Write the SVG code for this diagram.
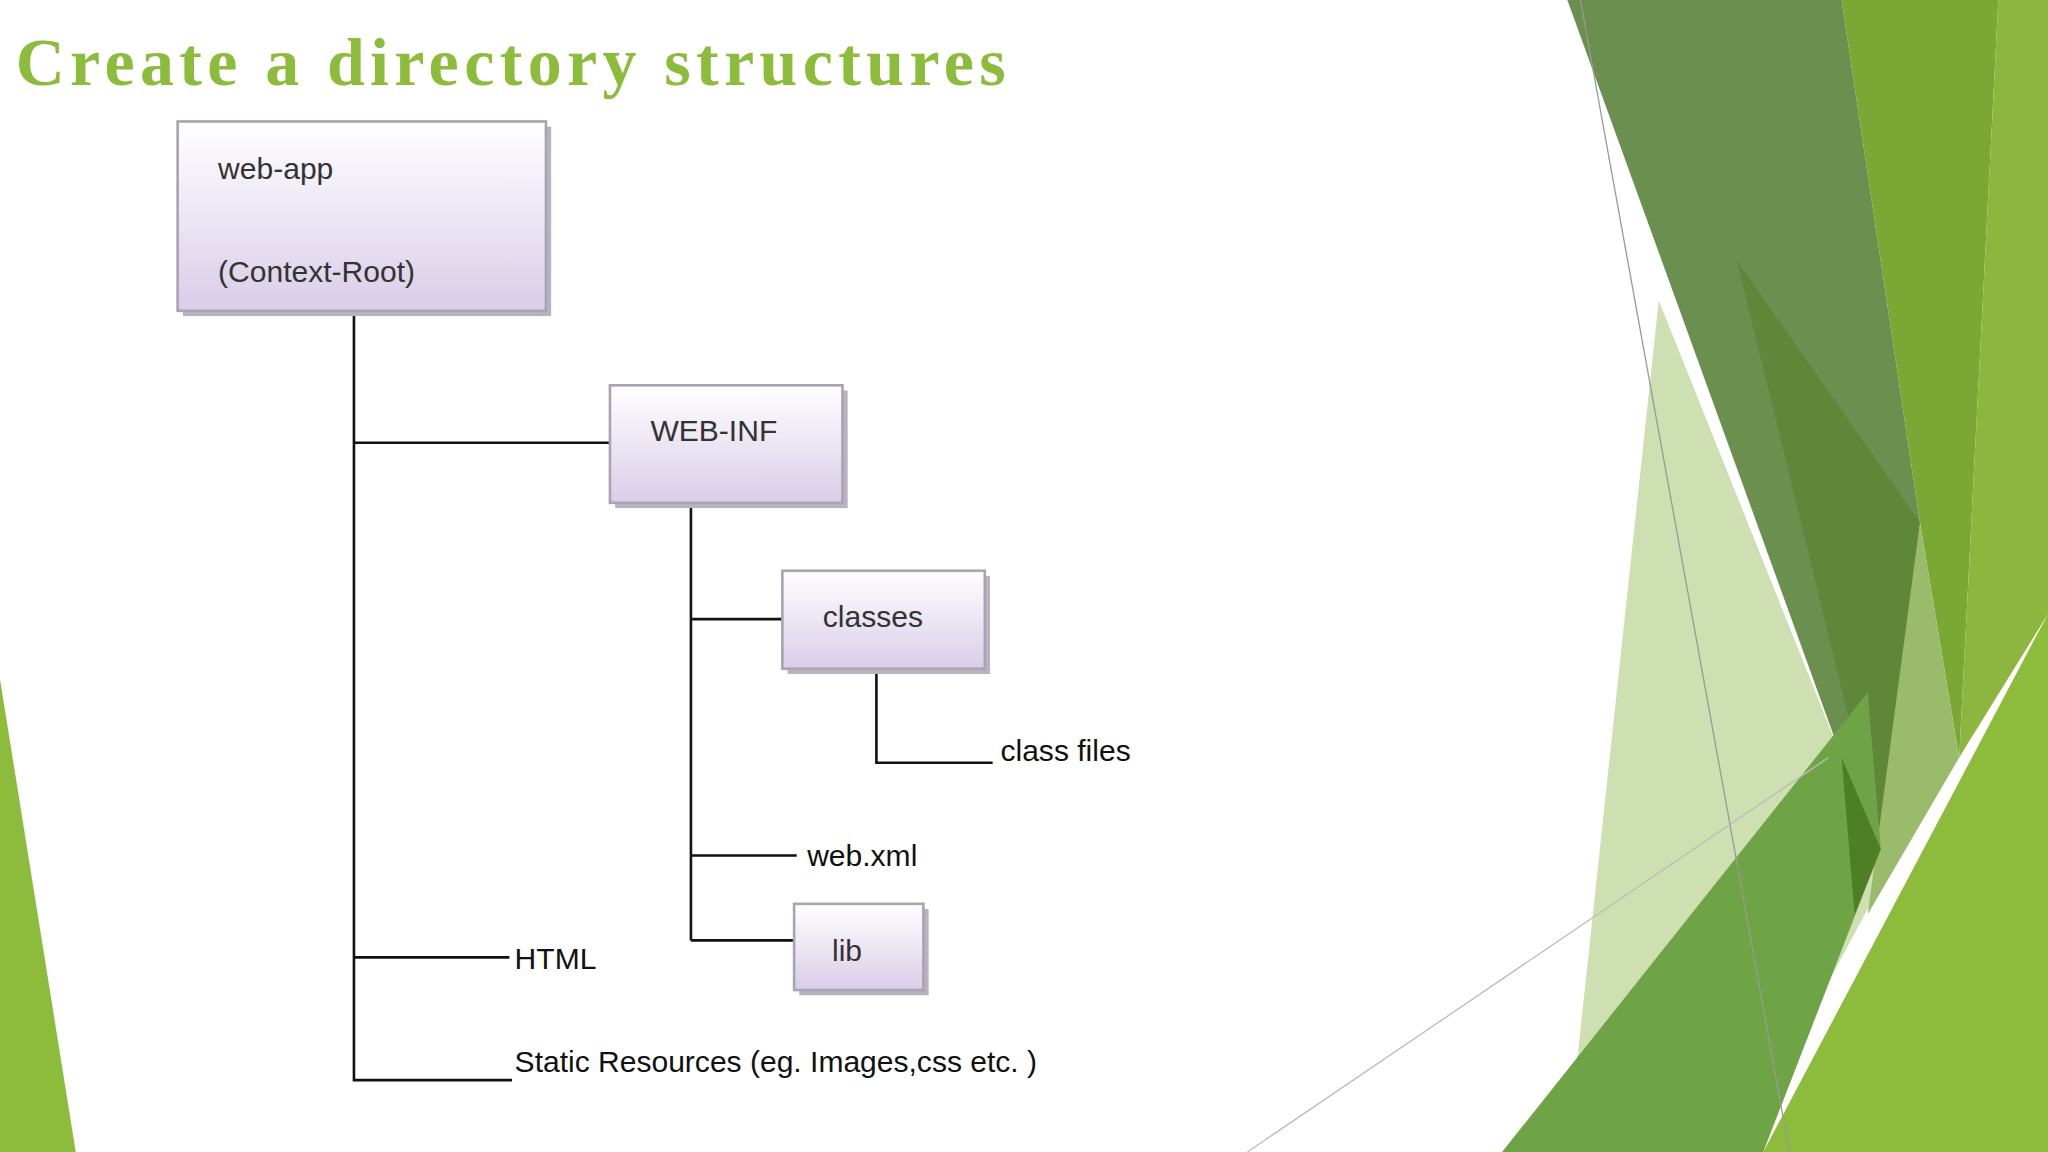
<svg xmlns="http://www.w3.org/2000/svg" width="2048" height="1152" viewBox="0 0 2048 1152">
<defs>
<linearGradient id="g" x1="0" y1="0" x2="0" y2="1"><stop offset="0" stop-color="#ffffff"/><stop offset="1" stop-color="#d9cde8"/></linearGradient>
<style>
.box{fill:url(#g);stroke:#a9a3b3;stroke-width:2}
.sh{fill:#b8b3bf}
.t{font-family:"Liberation Sans",Arial,sans-serif;font-size:23px;fill:#333}
.k{font-family:"Liberation Sans",Arial,sans-serif;font-size:23px;fill:#111}
.c{stroke:#111;stroke-width:2;fill:none}
</style>
</defs>
<rect width="2048" height="1152" fill="#fff"/>
<g transform="scale(1.30612)">
<g id="background">
<polygon points="0,520 58,882 0,882" fill="#8dbb3c"/>
<polygon points="1270,230 1410,580 1460,640 1330,882 1200,882" fill="#b9d291" opacity="0.7"/>
<polygon points="1200,0 1410,0 1470,400 1440,650 1410,580" fill="#6a8f4e"/>
<polygon points="1330,200 1470,400 1440,650" fill="#5f873a"/>
<polygon points="1410,0 1530,0 1500,580 1470,400" fill="#7aa835"/>
<polygon points="1530,0 1568,0 1568,470 1500,580" fill="#8db63f"/>
<polygon points="1470,400 1500,580 1430,700" fill="#9bbb6c"/>
<polygon points="1150,882 1430,530 1440,650 1350,882" fill="#6ea346"/>
<polygon points="1410,580 1440,650 1420,700" fill="#4e7f27"/>
<polygon points="1350,882 1568,470 1568,882" fill="#8dbb3c"/>
<line x1="1210" y1="0" x2="1370" y2="882" stroke="#999" stroke-width="1"/>
<line x1="955" y1="882" x2="1400" y2="580" stroke="#bbb" stroke-width="1"/>
</g>
<text x="12" y="65" font-family="'Liberation Serif','DejaVu Serif',serif" font-weight="bold" font-size="52" fill="#8dbb3c" textLength="758">Create a directory structures</text>
<g id="connectors">
<path class="c" d="M271,238V828M271,339H467M271,733H390M271,827H392M529,385V720M529,474H599M529,655H610M529,720H608M671,512V584H760"/>
</g>
<g id="web-app"><rect class="sh" x="140" y="97" width="282" height="145"/><rect class="box" x="136" y="93" width="282" height="145"/><text class="t" x="167" y="137">web-app</text><text class="t" x="167" y="216">(Context-Root)</text></g>
<g id="web-inf"><rect class="sh" x="471" y="299" width="178" height="90"/><rect class="box" x="467" y="295" width="178" height="90"/><text class="t" x="498" y="338">WEB-INF</text></g>
<g id="classes"><rect class="sh" x="603" y="441" width="155" height="75"/><rect class="box" x="599" y="437" width="155" height="75"/><text class="t" x="630" y="480">classes</text></g>
<g id="lib"><rect class="sh" x="612" y="696" width="99" height="66"/><rect class="box" x="608" y="692" width="99" height="66"/><text class="t" x="637" y="736">lib</text></g>
<g id="labels">
<text class="k" x="766" y="583">class files</text>
<text class="k" x="618" y="663">web.xml</text>
<text class="k" x="394" y="742">HTML</text>
<text class="k" x="394" y="821">Static Resources  (eg. Images,css etc. )</text>
</g>
</g>
</svg>
